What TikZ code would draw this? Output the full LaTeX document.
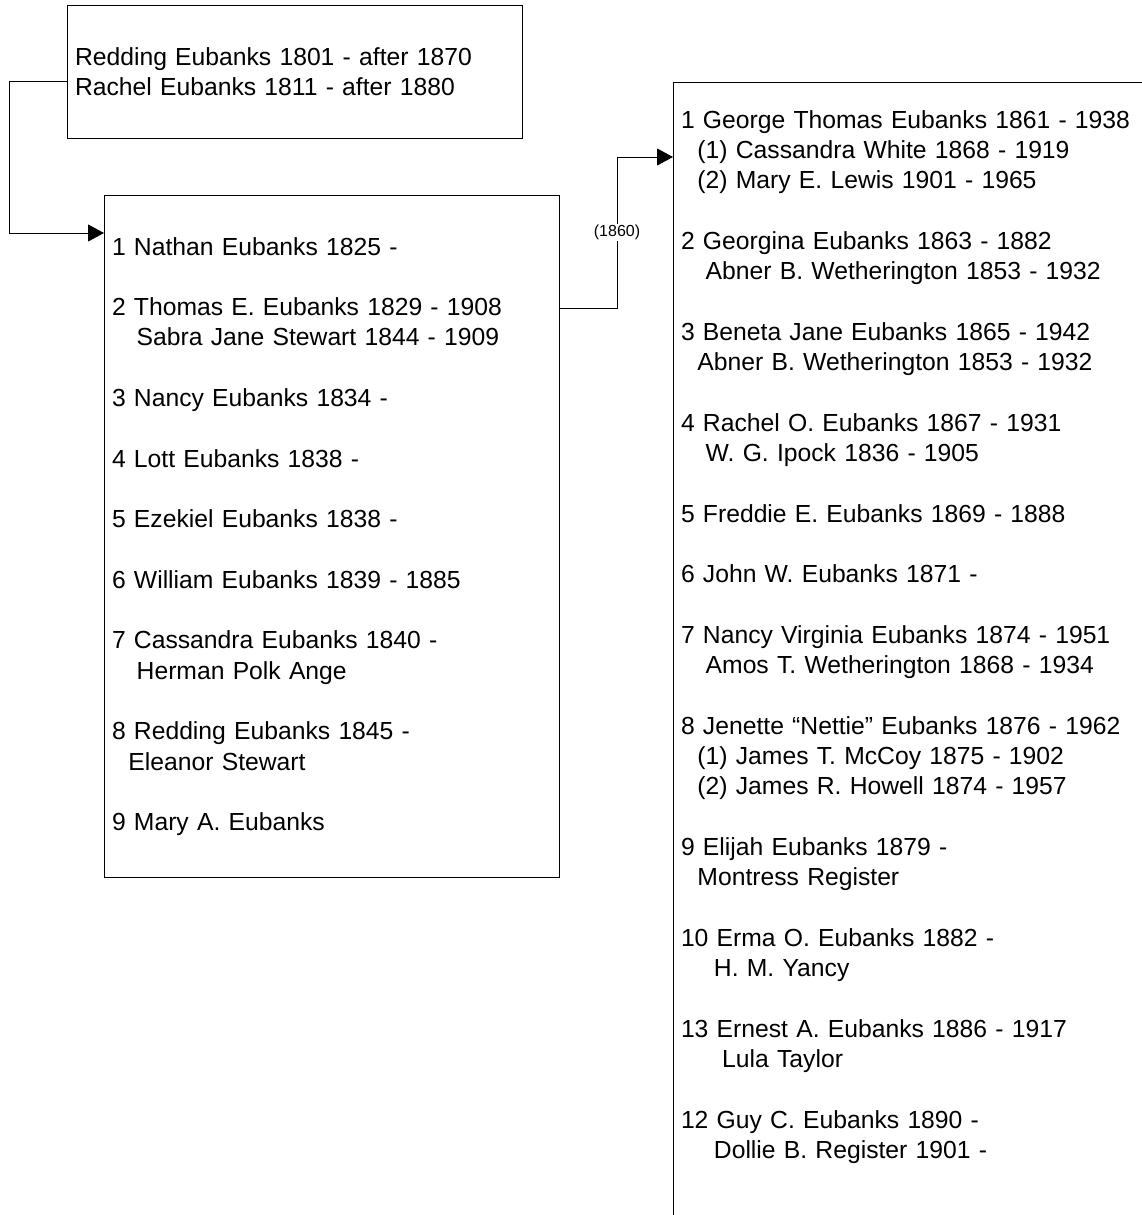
\documentclass[tikz,border=0pt]{standalone}
\usepackage{fontspec}
\setmainfont{Liberation Sans}
\usetikzlibrary{arrows.meta}

\begin{document}
\begin{tikzpicture}[x=1pt,y=-1pt,>={Triangle[length=16pt,width=17pt]},line width=1pt,
                    family box/.style={rectangle,draw,anchor=north west,align=left,
                      inner xsep=7.5pt,font=\fontsize{24.7}{30.3}\selectfont},
                    year label/.style={fill=white,inner sep=1.5pt,font=\fontsize{16}{19}\selectfont}]
  \useasboundingbox (0,0) rectangle (1141,1215);
  \node[family box,text width=440pt,minimum height=133pt] (parents) at (67,5)
    {Redding Eubanks 1801 - after 1870\\Rachel Eubanks 1811 - after 1880};
  \node[family box,text width=440pt,minimum height=682pt] (children) at (104,195)
    {1 Nathan Eubanks 1825 -\\[30.3pt]
     2 Thomas E. Eubanks 1829 - 1908\\
     ~~~Sabra Jane Stewart 1844 - 1909\\[30.3pt]
     3 Nancy Eubanks 1834 -\\[30.3pt]
     4 Lott Eubanks 1838 -\\[30.3pt]
     5 Ezekiel Eubanks 1838 -\\[30.3pt]
     6 William Eubanks 1839 - 1885\\[30.3pt]
     7 Cassandra Eubanks 1840 -\\
     ~~~Herman Polk Ange\\[30.3pt]
     8 Redding Eubanks 1845 -\\
     ~~Eleanor Stewart\\[30.3pt]
     9 Mary A. Eubanks};
  \node[family box,text width=485pt,inner ysep=28pt,text depth=1200pt] (grandchildren) at (673,82)
    {1 George Thomas Eubanks 1861 - 1938\\
     ~~(1) Cassandra White 1868 - 1919\\
     ~~(2) Mary E. Lewis 1901 - 1965\\[30.3pt]
     2 Georgina Eubanks 1863 - 1882\\
     ~~~Abner B. Wetherington 1853 - 1932\\[30.3pt]
     3 Beneta Jane Eubanks 1865 - 1942\\
     ~~Abner B. Wetherington 1853 - 1932\\[30.3pt]
     4 Rachel O. Eubanks 1867 - 1931\\
     ~~~W. G. Ipock 1836 - 1905\\[30.3pt]
     5 Freddie E. Eubanks 1869 - 1888\\[30.3pt]
     6 John W. Eubanks 1871 -\\[30.3pt]
     7 Nancy Virginia Eubanks 1874 - 1951\\
     ~~~Amos T. Wetherington 1868 - 1934\\[30.3pt]
     8 Jenette “Nettie” Eubanks 1876 - 1962\\
     ~~(1) James T. McCoy 1875 - 1902\\
     ~~(2) James R. Howell 1874 - 1957\\[30.3pt]
     9 Elijah Eubanks 1879 -\\
     ~~Montress Register\\[30.3pt]
     10 Erma O. Eubanks 1882 -\\
     ~~~~H. M. Yancy\\[30.3pt]
     13 Ernest A. Eubanks 1886 - 1917\\
     ~~~~~Lula Taylor\\[30.3pt]
     12 Guy C. Eubanks 1890 -\\
     ~~~~Dollie B. Register 1901 -};
  \draw[->] ([yshift=-9.5pt]parents.west) -- ++(-58,0) |- ([yshift=-38pt]children.north west);
  \draw[->] ([yshift=-113pt]children.north east) -- ++(57,0)
    |- node[year label,pos=0.25] {(1860)} ([yshift=-75pt]grandchildren.north west);
\end{tikzpicture}
\end{document}
